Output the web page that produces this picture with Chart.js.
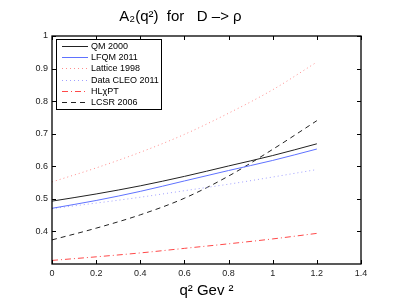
<!DOCTYPE html>
<html>
<head>
<meta charset="utf-8">
<script src="https://cdn.jsdelivr.net/npm/chart.js@4"></script>
<style>
  body { margin: 0; background: #fff; }
</style>
</head>
<body>
<canvas id="a2Chart" width="399" height="300"></canvas>
<script>
// q^2 values (GeV^2) where the curves were read
const q2 = [0, 0.2, 0.4, 0.6, 0.8, 1.0, 1.2];

const qm2000   = [0.493, 0.515, 0.540, 0.569, 0.601, 0.633, 0.669];
const lfqm2011 = [0.471, 0.495, 0.523, 0.555, 0.587, 0.618, 0.653];
const lattice  = [0.552, 0.595, 0.643, 0.698, 0.763, 0.835, 0.920];
const cleo2011 = [0.470, 0.487, 0.505, 0.525, 0.545, 0.567, 0.590];
const hlxpt    = [0.311, 0.322, 0.334, 0.348, 0.362, 0.377, 0.394];
const lcsr2006 = [0.374, 0.410, 0.451, 0.502, 0.570, 0.652, 0.740];

const xTicks = [0, 0.2, 0.4, 0.6, 0.8, 1, 1.2, 1.4];
const yTicks = [0.4, 0.5, 0.6, 0.7, 0.8, 0.9, 1];

const toPoints = arr => arr.map((v, i) => ({ x: q2[i], y: v }));

const series = [
  { label: 'QM 2000',        data: qm2000,   color: '#222222', dash: [] },
  { label: 'LFQM 2011',      data: lfqm2011, color: '#5f72ff', dash: [] },
  { label: 'Lattice 1998',   data: lattice,  color: '#ff8c8c', dash: [1, 3] },
  { label: 'Data CLEO 2011', data: cleo2011, color: '#a0a0ff', dash: [1, 3] },
  { label: 'HL\u03C7PT',     data: hlxpt,    color: '#ff4848', dash: [6, 3, 1, 3] },
  { label: 'LCSR 2006',      data: lcsr2006, color: '#222222', dash: [5, 4] }
];

// box, inward ticks and legend in MATLAB style
const matlabFrame = {
  id: 'matlabFrame',
  afterDraw(chart) {
    const ctx = chart.ctx;
    const a = chart.chartArea;
    const sx = chart.scales.x, sy = chart.scales.y;
    const L = Math.round(a.left), R = Math.round(a.right);
    const T = Math.round(a.top), B = Math.round(a.bottom);
    ctx.save();
    ctx.setLineDash([]);
    ctx.lineWidth = 1.3;
    ctx.strokeStyle = '#000000';
    ctx.strokeRect(L, T, R - L, B - T);
    ctx.lineWidth = 1;
    ctx.beginPath();
    xTicks.forEach(t => {
      const px = Math.round(sx.getPixelForValue(t)) + 0.5;
      ctx.moveTo(px, B); ctx.lineTo(px, B - 4);
      ctx.moveTo(px, T); ctx.lineTo(px, T + 4);
    });
    yTicks.forEach(t => {
      const py = Math.round(sy.getPixelForValue(t)) + 0.5;
      ctx.moveTo(L, py); ctx.lineTo(L + 4, py);
      ctx.moveTo(R, py); ctx.lineTo(R - 4, py);
    });
    ctx.stroke();

    // legend
    const lx = L + 4, ly = T + 3, lw = 105, lh = 70;
    ctx.fillStyle = '#ffffff';
    ctx.fillRect(lx, ly, lw, lh);
    ctx.strokeStyle = '#000000';
    ctx.strokeRect(lx + 0.5, ly + 0.5, lw, lh);
    ctx.font = '9px "Liberation Sans", Arial, sans-serif';
    ctx.textBaseline = 'middle';
    series.forEach((s, i) => {
      const y = Math.round(ly + 7 + i * 11.2) + 0.5;
      ctx.beginPath();
      ctx.strokeStyle = s.color;
      ctx.setLineDash(s.dash);
      ctx.moveTo(lx + 6, y); ctx.lineTo(lx + 32, y);
      ctx.stroke();
      ctx.fillStyle = '#000000';
      ctx.fillText(s.label, lx + 35, y);
    });
    ctx.restore();
  }
};

new Chart(document.getElementById('a2Chart'), {
  type: 'line',
  data: {
    datasets: series.map(s => ({
      label: s.label,
      data: toPoints(s.data),
      borderColor: s.color,
      borderDash: s.dash,
      borderWidth: 1,
      pointRadius: 0,
      fill: false,
      cubicInterpolationMode: 'monotone'
    }))
  },
  options: {
    responsive: false,
    animation: false,
    layout: { padding: { left: 0, right: 38, top: 0, bottom: 0 } },
    plugins: {
      legend: { display: false },
      tooltip: { enabled: false },
      title: {
        display: true,
        text: 'A\u2082(q\u00B2)  for   D \u2013> \u03C1',
        color: '#000',
        font: { family: '"Liberation Sans", Arial, sans-serif', size: 15, weight: 'normal', lineHeight: 1.2 },
        padding: { top: 8, bottom: 10 }
      }
    },
    scales: {
      x: {
        type: 'linear',
        min: 0,
        max: 1.4,
        grid: { display: false, drawTicks: false, tickLength: 0 },
        border: { display: false },
        afterBuildTicks: s => { s.ticks = xTicks.map(v => ({ value: v })); },
        ticks: {
          color: '#222',
          padding: 4,
          maxRotation: 0,
          font: { family: '"Liberation Sans", Arial, sans-serif', size: 9 },
          callback: v => String(+v.toFixed(1))
        },
        title: {
          display: true,
          text: 'q\u00B2 Gev \u00B2',
          color: '#000',
          padding: { top: 0, bottom: 0 },
          font: { family: '"Liberation Sans", Arial, sans-serif', size: 15 }
        },
        afterFit: s => { s.height = 36; }
      },
      y: {
        type: 'linear',
        min: 0.3,
        max: 1,
        grid: { display: false, drawTicks: false, tickLength: 0 },
        border: { display: false },
        afterBuildTicks: s => { s.ticks = yTicks.map(v => ({ value: v })); },
        ticks: {
          color: '#222',
          padding: 4,
          font: { family: '"Liberation Sans", Arial, sans-serif', size: 9 },
          callback: v => String(+v.toFixed(1))
        },
        afterFit: s => { s.width = 52; }
      }
    }
  },
  plugins: [matlabFrame]
});
</script>
</body>
</html>
